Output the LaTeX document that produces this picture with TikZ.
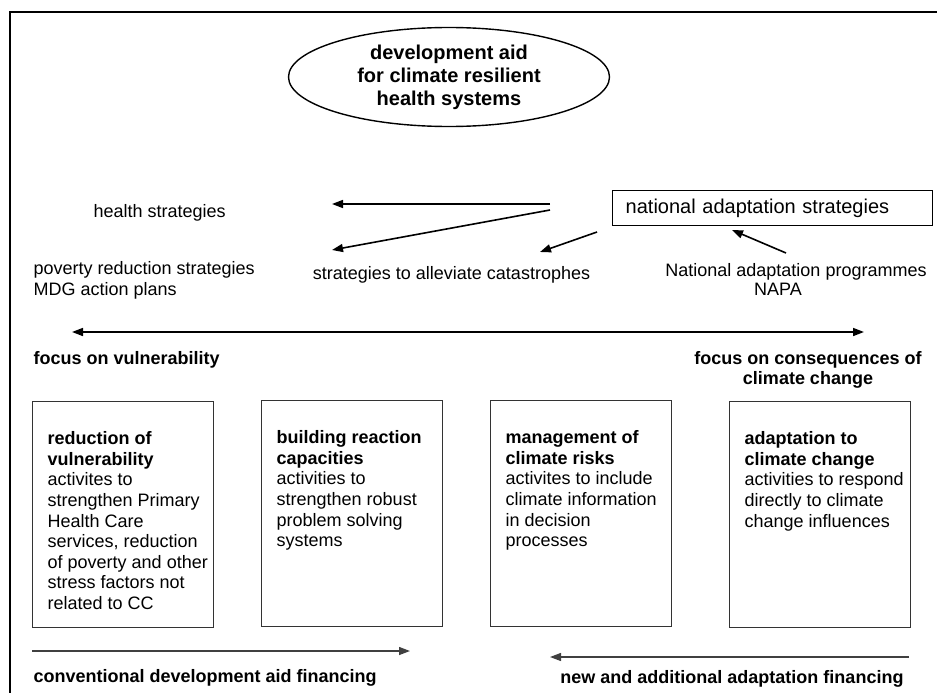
\documentclass[tikz,border=0pt]{standalone}
\usepackage{fontspec}
\setmainfont{Liberation Sans}
\usepackage{tikz}
\usetikzlibrary{shapes.geometric, arrows.meta}

% text block of one of the four fields: bold title, then the activities
\newcommand{\fieldtext}[2]{\parbox[c][226pt][t]{181pt}{\raggedright\leftskip=15pt
    \vspace*{30pt}\textbf{#1}\\#2}}

\begin{document}
\begin{tikzpicture}[x=1pt, y=-1pt,
    font=\fontsize{18}{20.6}\selectfont,
    arrow/.style={line width=1.6pt, -{Triangle[length=11pt, width=8pt]}},
    funding/.style={line width=1.3pt, color=black!75, -{Triangle[length=11pt, width=8pt]}},
    field/.style={draw=black!80, line width=1.4pt, inner sep=0pt, anchor=north west}]
    \useasboundingbox (0,0) rectangle (937,693);

    % frame
    \draw[color = black!100, line width=1.2pt] (10,693) -- (10,12) -- (937,12);

    % aim
    \node[ellipse, draw, line width=1.4pt, minimum width=321pt, minimum height=99pt, inner sep=0pt,
          align=center, font=\fontsize{20}{23}\selectfont\bfseries] (aid) at (449,77)
          {development aid\\for climate resilient\\health systems};

    % strategies
    \node[anchor=west] (health) at (90,213) {health strategies};
    \node[anchor=west, align=left] (poverty) at (30,280.5) {poverty reduction strategies\\MDG action plans};
    \node (catastrophes) at (451.5,275) {strategies to alleviate catastrophes};
    \node[draw, line width=1.4pt, anchor=west, minimum height=35pt, inner xsep=13pt, text width=294pt,
          align=left, font=\fontsize{20}{23}\selectfont] (nas) at (612,208) {national adaptation strategies};
    \node (programmes) at (796,272) {National adaptation programmes};
    \node (napa) at (778,289) {NAPA};

    \coordinate (fork top) at (550,204);
    \coordinate (fork low) at (550,210);
    \coordinate (to health) at (332,204);
    \coordinate (to poverty) at (332,250);
    \coordinate (nas out) at (597,232);
    \coordinate (to catastrophes) at (540,252);
    \coordinate (napa out) at (786,253);
    \coordinate (to nas) at (732,230);
    \draw[arrow] (fork top) -- (to health);
    \draw[arrow] (fork low) -- (to poverty);
    \draw[arrow] (nas out) -- (to catastrophes);
    \draw[arrow] (napa out) -- (to nas);

    % focus scale
    \coordinate (vuln end) at (72,332);
    \coordinate (cons end) at (864,332);
    \draw[line width=1.6pt, {Triangle[length=11pt, width=8pt]}-{Triangle[length=11pt, width=8pt]}] (vuln end) -- (cons end);
    \node[anchor=west, font=\fontsize{18}{20.6}\selectfont\bfseries] (vuln) at (30,360) {focus on vulnerability};
    \node[align=center, font=\fontsize{18}{20.6}\selectfont\bfseries] (cons) at (808,370) {focus on consequences of\\climate change};

    % fields of action
    \node[field] (reduction) at (32,401) {\fieldtext{reduction of\\vulnerability}{activites to\\strengthen Primary\\Health Care\\services, reduction\\of poverty and other\\stress factors not\\related to CC}};
    \node[field] (capacities) at (261,400) {\fieldtext{building reaction\\capacities}{activities to\\strengthen robust\\problem solving\\systems}};
    \node[field] (risks) at (490,400) {\fieldtext{management of\\climate risks}{activites to include\\climate information\\in decision\\processes}};
    \node[field] (adaptation) at (729,401) {\fieldtext{adaptation to\\climate change}{activities to respond\\directly to climate\\change influences}};

    % financing
    \coordinate (conv start) at (32,651);
    \coordinate (conv end) at (410,651);
    \coordinate (new start) at (909,657);
    \coordinate (new end) at (550,657);
    \draw[funding] (conv start) -- (conv end);
    \draw[funding] (new start) -- (new end);
    \node[anchor=west, font=\fontsize{18}{20.6}\selectfont\bfseries] (conv) at (30,678) {conventional development aid financing};
    \node[anchor=east, font=\fontsize{18}{20.6}\selectfont\bfseries] (new) at (907,679) {new and additional adaptation financing};
\end{tikzpicture}
\end{document}
